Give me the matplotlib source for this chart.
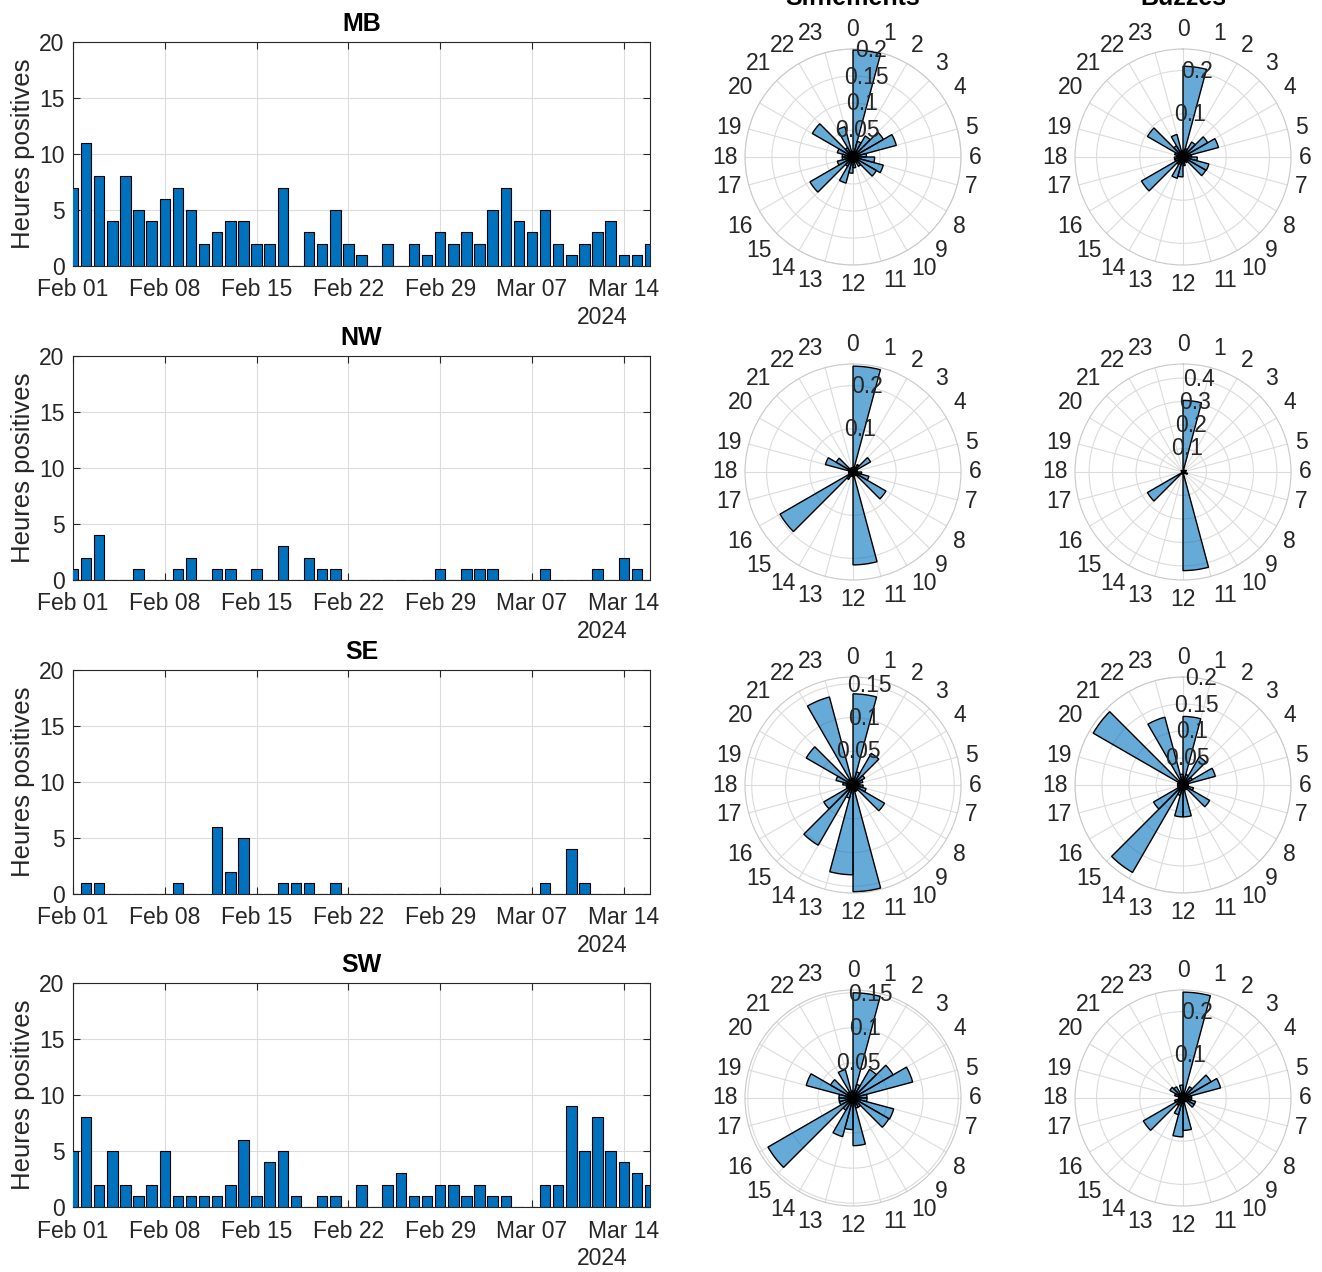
import numpy as np
import pandas as pd
import matplotlib
matplotlib.use("Agg")
import matplotlib.pyplot as plt
import matplotlib.dates as mdates

plt.rcParams['font.family'] = ['Liberation Sans', 'DejaVu Sans']

# daily positive hours, Feb 01 .. Mar 16 2024
days = pd.date_range('2024-02-01', periods=45, freq='D')
mb = [7, 11, 8, 4, 8, 5, 4, 6, 7, 5, 2, 3, 4, 4, 2, 2, 7, 0, 3, 2, 5, 2, 1,
      0, 2, 0, 2, 1, 3, 2, 3, 2, 5, 7, 4, 3, 5, 2, 1, 2, 3, 4, 1, 1, 2]
nw = [1, 2, 4, 0, 0, 1, 0, 0, 1, 2, 0, 1, 1, 0, 1, 0, 3, 0, 2, 1, 1, 0, 0,
      0, 0, 0, 0, 0, 1, 0, 1, 1, 1, 0, 0, 0, 1, 0, 0, 0, 1, 0, 2, 1, 0]
se = [0, 1, 1, 0, 0, 0, 0, 0, 1, 0, 0, 6, 2, 5, 0, 0, 1, 1, 1, 0, 1, 0, 0,
      0, 0, 0, 0, 0, 0, 0, 0, 0, 0, 0, 0, 0, 1, 0, 4, 1, 0, 0, 0, 0, 0]
sw = [5, 8, 2, 5, 2, 1, 2, 5, 1, 1, 1, 1, 2, 6, 1, 4, 5, 1, 0, 1, 1, 0, 2,
      0, 2, 3, 1, 1, 2, 2, 1, 2, 1, 1, 0, 0, 2, 2, 9, 5, 8, 5, 4, 3, 2]
sites = ['MB', 'NW', 'SE', 'SW']
daily = [mb, nw, se, sw]

# hourly proportions (24 bins), whistles and buzzes
hours = np.arange(24)
sif_mb = [0.198, 0.03, 0.045, 0.065, 0.083, 0.025, 0.04, 0.058, 0.05, 0.02, 0.01, 0.02,
          0.03, 0.05, 0.02, 0.092, 0.03, 0.02, 0.02, 0.03, 0.087, 0.02, 0.058, 0.01]
sif_nw = [0.245, 0.01, 0.02, 0.047, 0.01, 0.01, 0.02, 0.038, 0.088, 0.01, 0.0, 0.215,
          0.01, 0.01, 0.02, 0.195, 0.01, 0.01, 0.01, 0.066, 0.045, 0.01, 0.01, 0.01]
sif_se = [0.135, 0.02, 0.054, 0.02, 0.015, 0.01, 0.015, 0.02, 0.054, 0.01, 0.01, 0.158,
          0.133, 0.02, 0.103, 0.05, 0.01, 0.01, 0.015, 0.026, 0.08, 0.01, 0.135, 0.01]
sif_sw = [0.15, 0.02, 0.047, 0.066, 0.088, 0.02, 0.02, 0.06, 0.059, 0.015, 0.015, 0.068,
          0.045, 0.057, 0.02, 0.14, 0.02, 0.02, 0.02, 0.069, 0.037, 0.01, 0.042, 0.01]
buz_mb = [0.21, 0.02, 0.04, 0.066, 0.085, 0.02, 0.033, 0.062, 0.061, 0.015, 0.01, 0.02,
          0.046, 0.051, 0.02, 0.111, 0.02, 0.02, 0.015, 0.02, 0.095, 0.03, 0.054, 0.015]
buz_nw = [0.305, 0.01, 0.005, 0.005, 0.015, 0.005, 0.01, 0.02, 0.01, 0.005, 0.005, 0.42,
          0.005, 0.01, 0.005, 0.175, 0.005, 0.005, 0.005, 0.005, 0.01, 0.005, 0.005, 0.005]
buz_se = [0.127, 0.02, 0.06, 0.02, 0.062, 0.01, 0.01, 0.02, 0.057, 0.01, 0.01, 0.059,
          0.059, 0.02, 0.187, 0.063, 0.01, 0.01, 0.01, 0.01, 0.192, 0.01, 0.13, 0.02]
buz_sw = [0.245, 0.01, 0.03, 0.075, 0.09, 0.02, 0.02, 0.03, 0.03, 0.01, 0.01, 0.075,
          0.09, 0.04, 0.02, 0.106, 0.02, 0.01, 0.01, 0.02, 0.035, 0.03, 0.01, 0.03]
sif = [sif_mb, sif_nw, sif_se, sif_sw]
buz = [buz_mb, buz_nw, buz_se, buz_sw]
sif_rmax = [0.2, 0.25, 0.16, 0.154]
sif_ticks = [[0.05, 0.1, 0.15, 0.2], [0.1, 0.2], [0.05, 0.1, 0.15], [0.05, 0.1, 0.15]]
buz_rmax = [0.25, 0.46, 0.2, 0.25]
buz_ticks = [[0.1, 0.2], [0.1, 0.2, 0.3, 0.4], [0.05, 0.1, 0.15, 0.2], [0.1, 0.2]]

W, H = 1322, 1272
fig = plt.figure(figsize=(W / 100, H / 100), dpi=100)

axcol = '#262626'
gridcol = '#dcdcdc'
barcol = '#0072BD'
fs = 16.5

bar_tops = [42, 356, 670, 983]
pol_cy = [157, 472, 785, 1098]
pol_cx = [853, 1183]
R = 108

xticks = pd.date_range('2024-02-01', '2024-03-14', freq='7D')


def hour_labels(pax, rmax):
    # matlab-like placement: anchor just outside the circle, aligned by quadrant
    for h in hours:
        th = np.deg2rad(h * 15)
        s, c = np.sin(th), np.cos(th)
        ha = 'center' if abs(s) < 0.01 else ('left' if s > 0 else 'right')
        va = 'center' if abs(c) < 0.35 else ('bottom' if c > 0 else 'top')
        pax.text(th, rmax * 1.07, str(h), ha=ha, va=va, fontsize=fs, color=axcol)


for i in range(4):
    top = bar_tops[i]
    ax = fig.add_axes([73 / W, 1 - (top + 224) / H, 577 / W, 224 / H])
    ax.bar(days, daily[i], width=0.8, color=barcol, edgecolor='black', linewidth=0.8, zorder=3)
    ax.set_xlim(pd.Timestamp('2024-02-01'), pd.Timestamp('2024-03-16'))
    ax.set_ylim(0, 20)
    ax.set_yticks([0, 5, 10, 15, 20])
    ax.set_xticks(xticks)
    ax.xaxis.set_major_formatter(mdates.DateFormatter('%b %d'))
    ax.grid(True, color=gridcol, linewidth=0.8, zorder=0)
    ax.tick_params(direction='in', top=True, right=True, length=5, width=0.8,
                   labelsize=fs, colors=axcol)
    ax.tick_params(axis='x', pad=9)
    ax.tick_params(axis='y', pad=6)
    for s in ax.spines.values():
        s.set_color(axcol)
        s.set_linewidth(0.8)
    ax.set_ylabel('Heures positives', fontsize=18.5, color=axcol, labelpad=3)
    ax.set_title(sites[i], fontsize=18, fontweight='bold', pad=8)
    ax.text(0.917, -0.232, '2024', transform=ax.transAxes, ha='center', va='center',
            fontsize=fs, color=axcol)

    for j, (vals, rmax, rt) in enumerate([(sif[i], sif_rmax[i], sif_ticks[i]),
                                          (buz[i], buz_rmax[i], buz_ticks[i])]):
        cx, cy = pol_cx[j], pol_cy[i]
        pax = fig.add_axes([(cx - R) / W, 1 - (cy + R) / H, 2 * R / W, 2 * R / H],
                           projection='polar')
        pax.set_theta_zero_location('N')
        pax.set_theta_direction(-1)
        pax.bar(np.deg2rad(hours * 15), vals, width=np.deg2rad(15), align='edge',
                facecolor=(0, 0.447, 0.741, 0.6), edgecolor='black', linewidth=1.0, zorder=3)
        pax.set_ylim(0, rmax)
        pax.set_thetagrids(np.arange(0, 360, 15), [''] * 24)
        hour_labels(pax, rmax)
        pax.set_yticks(rt)
        pax.set_yticklabels([])
        for t in rt:
            pax.text(np.deg2rad(9.5), t, '%g' % t, ha='center', va='center',
                     fontsize=fs, color=axcol, zorder=6)
        pax.grid(True, color=gridcol, linewidth=0.8)
        pax.spines['polar'].set_color('#c8c8c8')
        pax.spines['polar'].set_linewidth(0.8)

fig.text(853 / W, 1 - 5 / H, 'Sifflements', ha='center', va='baseline',
         fontsize=18, fontweight='bold')
fig.text(1183 / W, 1 - 5 / H, 'Buzzes', ha='center', va='baseline',
         fontsize=18, fontweight='bold')

fig.savefig('out.png', dpi=100)
